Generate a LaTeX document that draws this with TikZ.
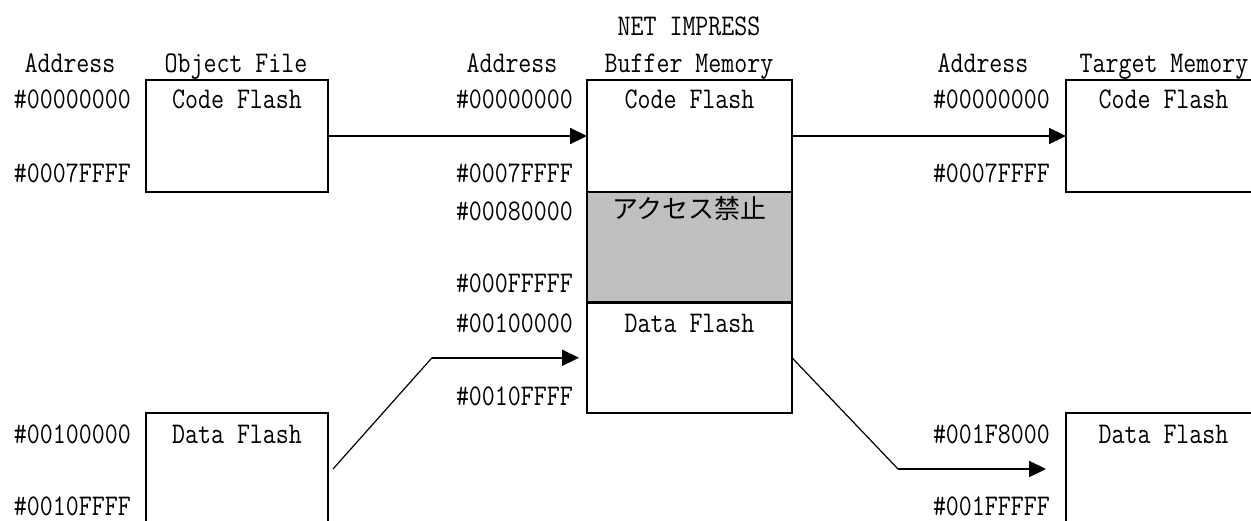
\documentclass[tikz,border=0pt]{standalone}
\usepackage{fontspec}
\setmainfont{Latin Modern Mono}[FakeStretch=0.84]
\newfontfamily\jpfont{Noto Sans CJK JP}
\usetikzlibrary{arrows.meta}
\begin{document}
\begin{tikzpicture}[x=1pt,y=-1pt,
  box/.style={draw, line width=2.2pt, inner sep=0pt, outer sep=0pt, minimum width=#1},
  txt/.style={font=\fontsize{30}{32}\selectfont, inner sep=0pt, anchor=base},
  addr/.style={txt, anchor=base east, text depth=0pt},
  jp/.style={font=\fontsize{26}{28}\selectfont\jpfont, inner sep=0pt, anchor=base},
  arr/.style={line width=2.2pt, -{Triangle[length=17pt,width=16pt]}},
  slant/.style={line width=1.2pt}]
\fill[white] (0,0) rectangle (1251,520);
\useasboundingbox (0,0) rectangle (1251,520);

% boxes
\node[box=182pt, minimum height=112pt] (objcode) at (237,136) {};
\node[box=182pt, minimum height=112pt] (objdata) at (237,469) {};
\node[box=205pt, minimum height=112pt] (bufcode) at (689.5,136) {};
\node[box=205pt, minimum height=110.5pt, fill={rgb,255:red,192;green,192;blue,192}] (bufgap) at (689.5,247.25) {};
\node[box=205pt, minimum height=110.5pt] (bufdata) at (689.5,357.75) {};
\node[box=195pt, minimum height=112pt] (tgtcode) at (1163.5,136) {};
\node[box=195pt, minimum height=112pt] (tgtdata) at (1163.5,469) {};

% headers
\node[txt] (h1) at (70,72) {Address};
\node[txt] (h2) at (236,72) {Object File};
\node[txt] (h3) at (512,72) {Address};
\node[txt] (h4a) at (689,35) {NET IMPRESS};
\node[txt] (h4) at (689,72) {Buffer Memory};
\node[txt] (h5) at (983,72) {Address};
\node[txt] (h6) at (1164,72) {Target Memory};

% box labels
\node[txt] (l1) at (237,108) {Code Flash};
\node[txt] (l2) at (237,443) {Data Flash};
\node[txt] (l3) at (689.5,108) {Code Flash};
\node[jp] (l4) at (689.5,218) {アクセス禁止};
\node[txt] (l5) at (689.5,332) {Data Flash};
\node[txt] (l6) at (1163.5,108) {Code Flash};
\node[txt] (l7) at (1163.5,443) {Data Flash};

% addresses
\node[addr] (a1) at (131,108) {\#00000000};
\node[addr] (a2) at (131,182) {\#0007FFFF};
\node[addr] (a3) at (131,443) {\#00100000};
\node[addr] (a4) at (131,515) {\#0010FFFF};
\node[addr] (b1) at (573,108) {\#00000000};
\node[addr] (b2) at (573,182) {\#0007FFFF};
\node[addr] (b3) at (573,220) {\#00080000};
\node[addr] (b4) at (573,292) {\#000FFFFF};
\node[addr] (b5) at (573,332) {\#00100000};
\node[addr] (b6) at (573,405) {\#0010FFFF};
\node[addr] (c1) at (1050,108) {\#00000000};
\node[addr] (c2) at (1050,182) {\#0007FFFF};
\node[addr] (c3) at (1050,443) {\#001F8000};
\node[addr] (c4) at (1050,515) {\#001FFFFF};

% connectors
\coordinate (k1) at (432,357.75);
\coordinate (k2) at (898,469);
\draw[arr] (objcode.east) -- (bufcode.west);
\draw[arr] (bufcode.east) -- (tgtcode.west);
\draw[slant] ([xshift=5pt]objdata.east) -- (k1);
\draw[arr] (k1) -- ([xshift=-8pt]bufdata.west);
\draw[slant] (bufdata.east) -- (k2);
\draw[arr] (k2) -- ([xshift=-20pt]tgtdata.west);
\end{tikzpicture}
\end{document}
